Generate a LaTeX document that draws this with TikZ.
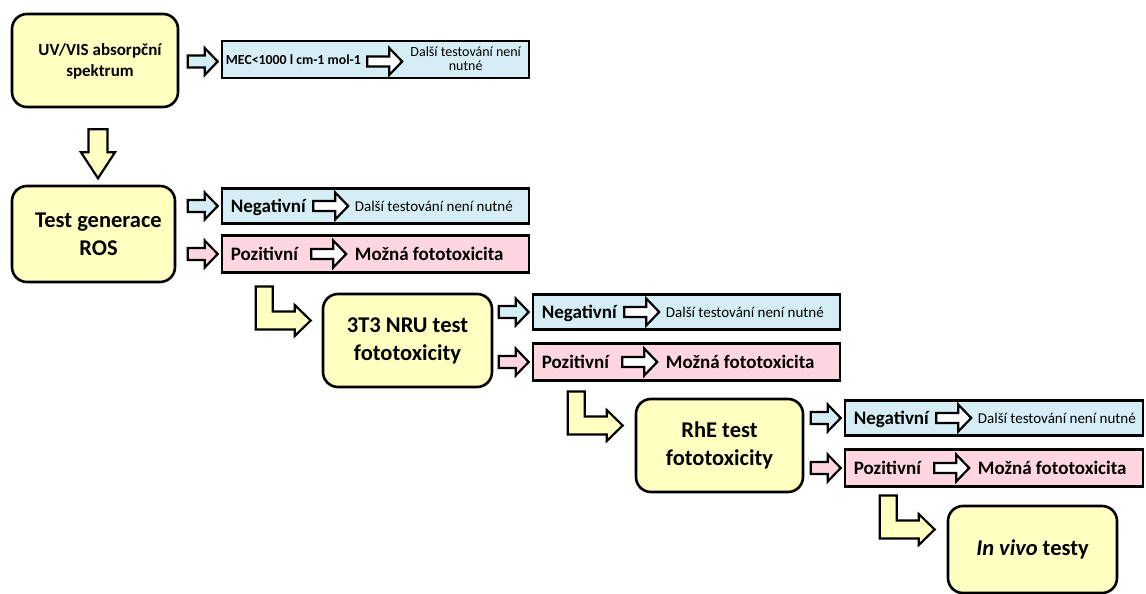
\documentclass[tikz,border=0pt]{standalone}
\usepackage{fontspec}
\setmainfont{Carlito}
\usetikzlibrary{calc}
\definecolor{boxyellow}{HTML}{FFFFC2}
\definecolor{boxblue}{HTML}{D5EEF6}
\definecolor{boxpink}{HTML}{FFD6E0}
\tikzset{
  stage/.style={draw, line width=2.6pt, rounded corners=15pt, fill=boxyellow, align=center,
    font=\bfseries\fontsize{22.5}{28}\selectfont, inner sep=0pt},
  stagetext/.style={align=center, inner sep=0pt, font=\bfseries\fontsize{22.5}{28}\selectfont},
  result/.style={draw, line width=2.6pt, inner sep=0pt, minimum width=307pt},
  lab/.style={anchor=base west, inner sep=0pt, font=\bfseries\fontsize{19}{22}\selectfont},
  smalltxt/.style={anchor=base west, inner sep=0pt, font=\fontsize{15}{16}\selectfont},
  blockarrow/.style={draw, line width=2.2pt, line join=miter},
  rarr/.pic={\path[pic actions] (-15,-6) -- (2,-6) -- (2,-13.5) -- (15,0) -- (2,13.5) -- (2,6) -- (-15,6) -- cycle;},
  iarr/.pic={\path[pic actions] (-17.5,-5) -- (4.5,-5) -- (4.5,-13.5) -- (17.5,0) -- (4.5,13.5) -- (4.5,5) -- (-17.5,5) -- cycle;},
  darr/.pic={\path[pic actions] (-9.5,-24.5) -- (9.5,-24.5) -- (9.5,-1.5) -- (17,-1.5) -- (0,24.5) -- (-17,-1.5) -- (-9.5,-1.5) -- cycle;},
  larr/.pic={\path[pic actions] (-55,-34) -- (-38,-34) -- (-38,-9) -- (-16,-9) -- (-16,-15.5) -- (0,0) -- (-16,15.5) -- (-16,9) -- (-55,9) -- cycle;}
}
\newcommand{\negrow}[3]{%
  \node[result, fill=boxblue, minimum width=#3, minimum height=35pt] (#1) at #2 {};
  \node[lab] (#1a) at ($(#1.west)+(10,6.5)$) {Negativní};
  \pic[blockarrow, fill=white] at ($(#1.west)+(110,0)$) {iarr};
  \node[smalltxt] (#1b) at ($(#1.west)+(134,5)$) {Další testování není nutné};
  \pic[blockarrow, fill=boxblue] at ($(#1.west)+(-18,0)$) {rarr};
}
\newcommand{\posrow}[3]{%
  \node[result, fill=boxpink, minimum width=#3, minimum height=37pt] (#1) at #2 {};
  \node[lab] (#1a) at ($(#1.west)+(10,6.5)$) {Pozitivní};
  \pic[blockarrow, fill=white] at ($(#1.west)+(108,0)$) {iarr};
  \node[lab] (#1b) at ($(#1.west)+(134,6.5)$) {Možná fototoxicita};
  \pic[blockarrow, fill=boxpink] at ($(#1.west)+(-18,0)$) {rarr};
}
\begin{document}
\begin{tikzpicture}[x=1pt,y=-1pt]
\path[use as bounding box, fill=white] (0,0) rectangle (1146,594);

% stages
\node[stage, minimum width=166pt, minimum height=93pt] (uv) at (95,60.5) {};
\node[stagetext, font=\bfseries\fontsize{17}{21}\selectfont] (uvt) at ($(uv.center)+(5,1)$) {UV/VIS absorpční\\spektrum};
\node[stage, minimum width=163pt, minimum height=96pt] (ros) at (93.5,234) {};
\node[stagetext] (rost) at ($(ros.center)+(5,0)$) {Test generace\\ROS};
\node[stage, minimum width=169pt, minimum height=93pt] (nru) at (407.5,340.5) {3T3 NRU test\\fototoxicity};
\node[stage, minimum width=167pt, minimum height=93pt] (rhe) at (719.5,445.5) {RhE test\\fototoxicity};
\node[stage, minimum width=169pt, minimum height=87pt] (vivo) at (1032.5,549.5) {\textit{In vivo} testy};

% MEC box
\node[result, fill=boxblue, minimum height=37pt] (mec) at (375.5,59.5) {};
\node[anchor=base west, inner sep=0pt, font=\bfseries\fontsize{13.8}{16}\selectfont] (meca) at ($(mec.west)+(5,5)$) {MEC<1000 l cm-1 mol-1};
\pic[blockarrow, fill=white] at ($(mec.west)+(164,2)$) {iarr};
\node[inner sep=0pt, align=center, font=\fontsize{14}{14}\selectfont] (mecb) at ($(mec.west)+(245,-1)$) {Další testování není\\nutné};
\pic[blockarrow, fill=boxblue] at ($(mec.west)+(-18,2)$) {rarr};

% down arrow
\pic[blockarrow, fill=boxyellow] at ($(uv.south)+(3,45.5)$) {darr};

% result rows
\negrow{negA}{(375.5,206)}{307pt}
\posrow{posA}{(375.5,254)}{307pt}
\negrow{negB}{(686.5,312)}{307pt}
\posrow{posB}{(686.5,362)}{307pt}
\negrow{negC}{(994,418)}{298pt}
\posrow{posC}{(994,468)}{298pt}

% L arrows
\pic[blockarrow, fill=boxyellow] at ($(nru.west)+(-11,-20)$) {larr};
\pic[blockarrow, fill=boxyellow] at ($(rhe.west)+(-12,-20)$) {larr};
\pic[blockarrow, fill=boxyellow] at ($(vivo.west)+(-12,-20)$) {larr};
\end{tikzpicture}
\end{document}
